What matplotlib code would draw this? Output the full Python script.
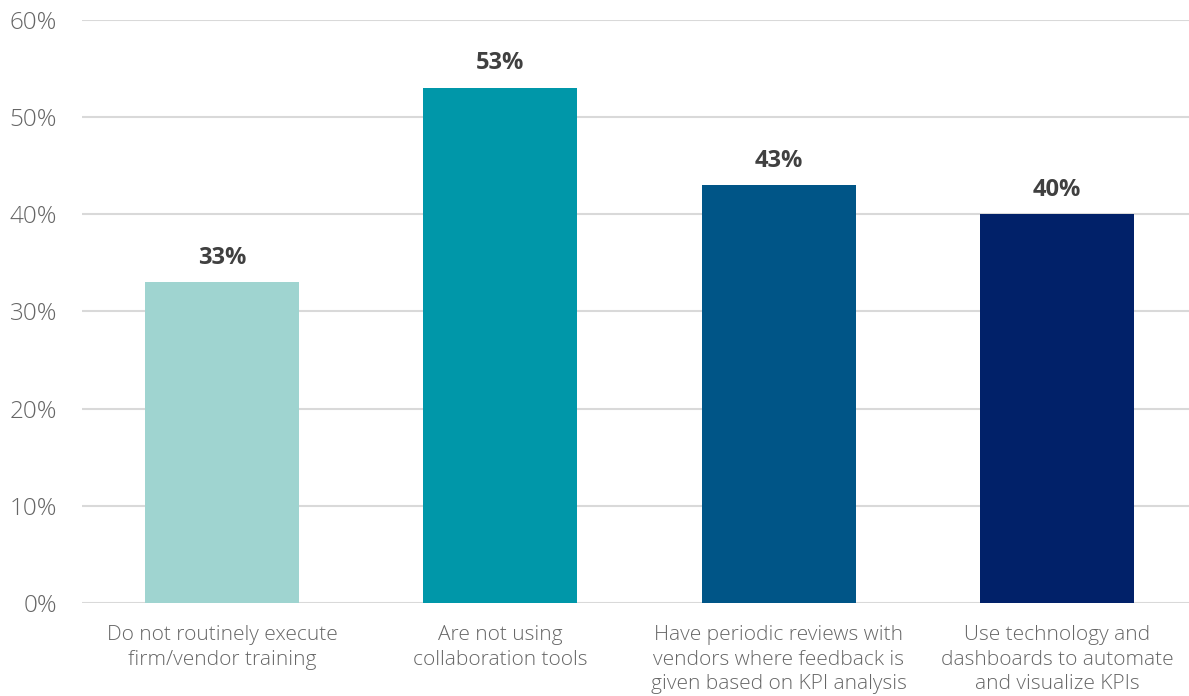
import matplotlib.pyplot as plt
from matplotlib.ticker import FuncFormatter

categories = [
    "Do not routinely execute\nfirm/vendor training",
    "Are not using\ncollaboration tools",
    "Have periodic reviews with\nvendors where feedback is\ngiven based on KPI analysis",
    "Use technology and\ndashboards to automate\nand visualize KPIs",
]
values = [33, 53, 43, 40]
colors = ["#9fd4d0", "#0097a9", "#005587", "#012169"]

plt.rcParams['font.family'] = ['Open Sans', 'DejaVu Sans']

fig = plt.figure(figsize=(11.89, 6.96), dpi=100)
ax = fig.add_axes([0.069, 0.1336, 0.931, 0.8377])

x = range(len(values))
ax.bar(x, values, width=0.553, color=colors, zorder=3)

# value labels above bars
for xi, v in zip(x, values):
    ax.text(xi, v + 1.3, f"{v}%", ha="center", va="bottom",
            fontsize=17, fontweight="bold", color="#404040")

ax.set_ylim(0, 60)
ax.set_xlim(-0.503, 3.474)
ax.set_yticks(range(0, 61, 10))
ax.yaxis.set_major_formatter(FuncFormatter(lambda v, _: f"{v:.0f}%"))
ax.grid(axis="y", color="#d9d9d9", linewidth=1.5, zorder=0)

ax.set_xticks(list(x))
ax.set_xticklabels(categories, fontsize=15, color="#666666", fontweight="light",
                   linespacing=1.3)
for lbl in ax.get_yticklabels():
    lbl.set_fontsize(17.5)
    lbl.set_color("#666666")
    lbl.set_fontweight("light")

ax.tick_params(axis="both", length=0)
ax.tick_params(axis="x", pad=16)
ax.tick_params(axis="y", pad=18)
for side in ["top", "right", "left", "bottom"]:
    ax.spines[side].set_visible(False)

fig.savefig("out.png", dpi=100)
